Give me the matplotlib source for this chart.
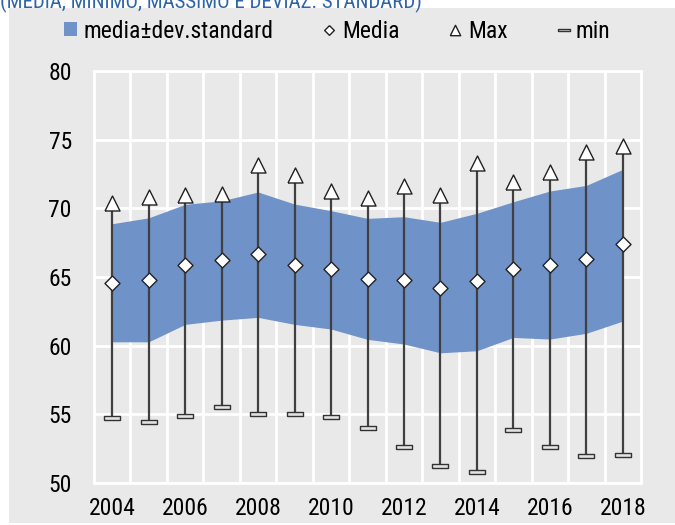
import matplotlib
matplotlib.use('Agg')
import matplotlib.pyplot as plt
from matplotlib.patches import Patch, Rectangle
from matplotlib.lines import Line2D

years = list(range(2004, 2019))
media = [64.55, 64.78, 65.87, 66.23, 66.65, 65.87, 65.56, 64.85, 64.78, 64.22, 64.71, 65.58, 65.85, 66.31, 67.38]
upper = [68.88, 69.31, 70.29, 70.55, 71.19, 70.31, 69.83, 69.27, 69.39, 68.98, 69.64, 70.48, 71.26, 71.67, 72.84]
lower = [60.28, 60.28, 61.55, 61.86, 62.06, 61.55, 61.21, 60.46, 60.12, 59.48, 59.63, 60.60, 60.48, 60.90, 61.79]
massimo = [70.36, 70.80, 70.97, 71.04, 73.15, 72.43, 71.28, 70.77, 71.65, 70.99, 73.32, 71.92, 72.67, 74.08, 74.54]
minimo = [54.75, 54.44, 54.90, 55.55, 55.04, 55.02, 54.78, 54.02, 52.64, 51.25, 50.81, 53.88, 52.59, 51.96, 52.05]

title = '(MEDIA, MINIMO, MASSIMO E DEVIAZ. STANDARD)'
labels = ['media\u00b1dev.standard', 'Media', 'Max', 'min']

plt.rcParams['font.family'] = ['Roboto Condensed', 'DejaVu Sans']

band_col = '#6f92c9'
bg = '#e9e9e9'
line_col = '#404040'

# marker shapes
tri = [(-0.5, -0.5), (0.5, -0.5), (0, 0.5), (-0.5, -0.5)]
dia = [(0, 1), (1, 0), (0, -1), (-1, 0), (0, 1)]
bar = [(-1, -0.22), (1, -0.22), (1, 0.22), (-1, 0.22), (-1, -0.22)]

fig = plt.figure(figsize=(6.75, 5.25), dpi=100, facecolor='white')
fig.patches.append(Rectangle((9 / 675, 2 / 525), 1, 1 - 10 / 525,
                             transform=fig.transFigure, facecolor=bg,
                             edgecolor='none', zorder=-10))
fig.text(0.0, 1 - 8 / 525, title, color='#2e64a8', fontsize=15,
         va='baseline', ha='left')

ax = fig.add_axes([94 / 675, 42 / 525, 547 / 675, 412 / 525])
ax.set_facecolor(bg)
x = list(range(len(years)))

ax.fill_between(x, lower, upper, color=band_col, lw=0, zorder=2)
ax.vlines(x, minimo, massimo, color=line_col, lw=1.6, zorder=3)
ax.plot(x, massimo, ls='none', marker=tri, ms=10.8, mfc='white',
        mec='#222222', mew=1, zorder=4)
ax.plot(x, media, ls='none', marker=dia, ms=10.8, mfc='white',
        mec='#222222', mew=1, zorder=4)
ax.plot(x, minimo, ls='none', marker=bar, ms=11.5, mfc='#e4e4e4',
        mec='#333333', mew=1, zorder=4)

ax.set_xlim(-0.5, len(years) - 0.5)
ax.set_ylim(50, 80)
ax.set_yticks(range(50, 81, 5))
ax.set_xticks(x[::2])
ax.set_xticklabels([str(y) for y in years[::2]])
ax.set_xticks([i - 0.5 for i in range(len(years) + 1)], minor=True)
ax.grid(True, axis='y', color='white', lw=2, zorder=1)
ax.grid(True, axis='x', which='minor', color='white', lw=2, zorder=1)
ax.set_axisbelow(True)
ax.tick_params(axis='both', which='both', length=0, labelsize=17)
ax.tick_params(axis='y', pad=16)
ax.tick_params(axis='x', pad=10)
for s in ax.spines.values():
    s.set_color('white')
    s.set_linewidth(2)

handles = [
    Patch(facecolor=band_col, edgecolor='none'),
    Line2D([], [], ls='none', marker=dia, ms=7, mfc='white', mec='#222222', mew=1),
    Line2D([], [], ls='none', marker=tri, ms=7.5, mfc='white', mec='#222222', mew=1),
    Line2D([], [], ls='none', marker=bar, ms=9, mfc='#e4e4e4', mec='#333333', mew=1),
]
fig.legend(handles, labels, loc='center', bbox_to_anchor=(0.5, 1 - 31 / 525),
           ncol=4, frameon=False, fontsize=17, handlelength=0.55,
           handleheight=0.55, handletextpad=0.25, columnspacing=2.1)

fig.savefig('out.png', dpi=100, facecolor='white')
